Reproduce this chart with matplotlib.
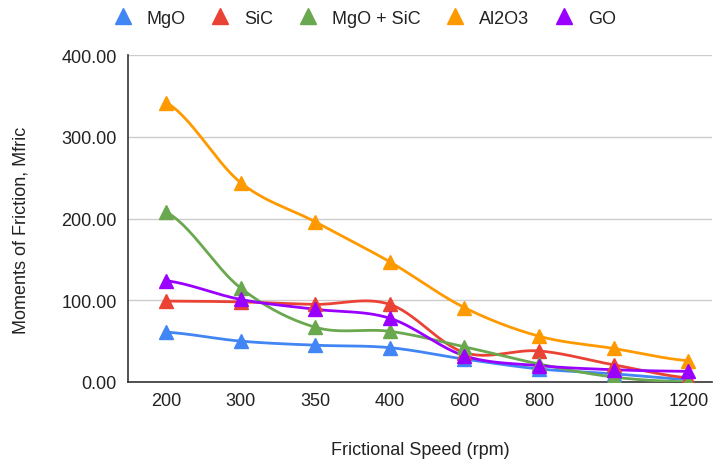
import matplotlib.pyplot as plt
import numpy as np

plt.rcParams['font.family'] = ['Liberation Sans', 'DejaVu Sans']

speeds = ['200', '300', '350', '400', '600', '800', '1000', '1200']
mgo = [61, 50, 45, 42, 28, 16, 10, 3]
sic = [99, 98, 95, 95, 36, 38, 21, 5]
mgo_sic = [208, 115, 67, 62, 43, 22, 6, 0]
al2o3 = [342, 244, 196, 147, 91, 56, 41, 26]
go = [124, 101, 89, 78, 32, 20, 15, 13]

series = [
    ('MgO', mgo, '#4285F4'),
    ('SiC', sic, '#EA4335'),
    ('MgO + SiC', mgo_sic, '#6AA84F'),
    ('Al2O3', al2o3, '#FF9900'),
    ('GO', go, '#9900FF'),
]


def smooth(y, n=30):
    # catmull-rom through the points
    y = np.asarray(y, dtype=float)
    p = np.concatenate([[y[0]], y, [y[-1]]])
    xs, ys = [], []
    for i in range(len(y) - 1):
        p0, p1, p2, p3 = p[i], p[i + 1], p[i + 2], p[i + 3]
        t = np.linspace(0, 1, n, endpoint=False)
        v = 0.5 * ((2 * p1) + (-p0 + p2) * t + (2 * p0 - 5 * p1 + 4 * p2 - p3) * t ** 2
                   + (-p0 + 3 * p1 - 3 * p2 + p3) * t ** 3)
        xs.append(i + t)
        ys.append(v)
    xs.append([len(y) - 1])
    ys.append([y[-1]])
    return np.concatenate(xs), np.concatenate(ys)


fig = plt.figure(figsize=(7.15, 4.64), dpi=100)
ax = fig.add_axes([0.179, 0.1746, 0.817, 0.7044])

x = np.arange(len(speeds))
handles = []
for name, vals, col in series:
    sx, sy = smooth(vals)
    ax.plot(sx, sy, color=col, lw=2, zorder=3)
    h, = ax.plot(x, vals, ls='none', marker='^', ms=10, color=col, zorder=4, label=name)
    handles.append(h)

ax.set_xlim(-0.51, 7.32)
ax.set_ylim(0, 400)
ax.set_xticks(x)
ax.set_xticklabels(speeds)
ax.set_yticks([0, 100, 200, 300, 400])
ax.set_yticklabels(['0.00', '100.00', '200.00', '300.00', '400.00'])
ax.tick_params(length=0, labelsize=13, colors='#222222')
ax.tick_params(axis='y', pad=8)
ax.tick_params(axis='x', pad=7)
ax.grid(axis='y', color='#cccccc', lw=1)
ax.set_axisbelow(True)
for s in ['top', 'right']:
    ax.spines[s].set_visible(False)
for s in ['bottom', 'left']:
    ax.spines[s].set_color('#333333')
    ax.spines[s].set_linewidth(1.2)

ax.set_xlabel('Frictional Speed (rpm)', fontsize=13, color='#222222')
ax.set_ylabel('Moments of Friction, Mfric', fontsize=13, color='#222222')
ax.xaxis.set_label_coords(0.5, -0.182)
ax.yaxis.set_label_coords(-0.168, 0.468)

fig.legend(handles=handles, loc='center', bbox_to_anchor=(0.51, 1 - 19 / 464), ncol=5,
           frameon=False, fontsize=13, handletextpad=0.8, columnspacing=1.45,
           handlelength=1.0, markerscale=1.1, borderpad=0, borderaxespad=0,
           labelcolor='#222222')

fig.savefig('out.png', dpi=100)
